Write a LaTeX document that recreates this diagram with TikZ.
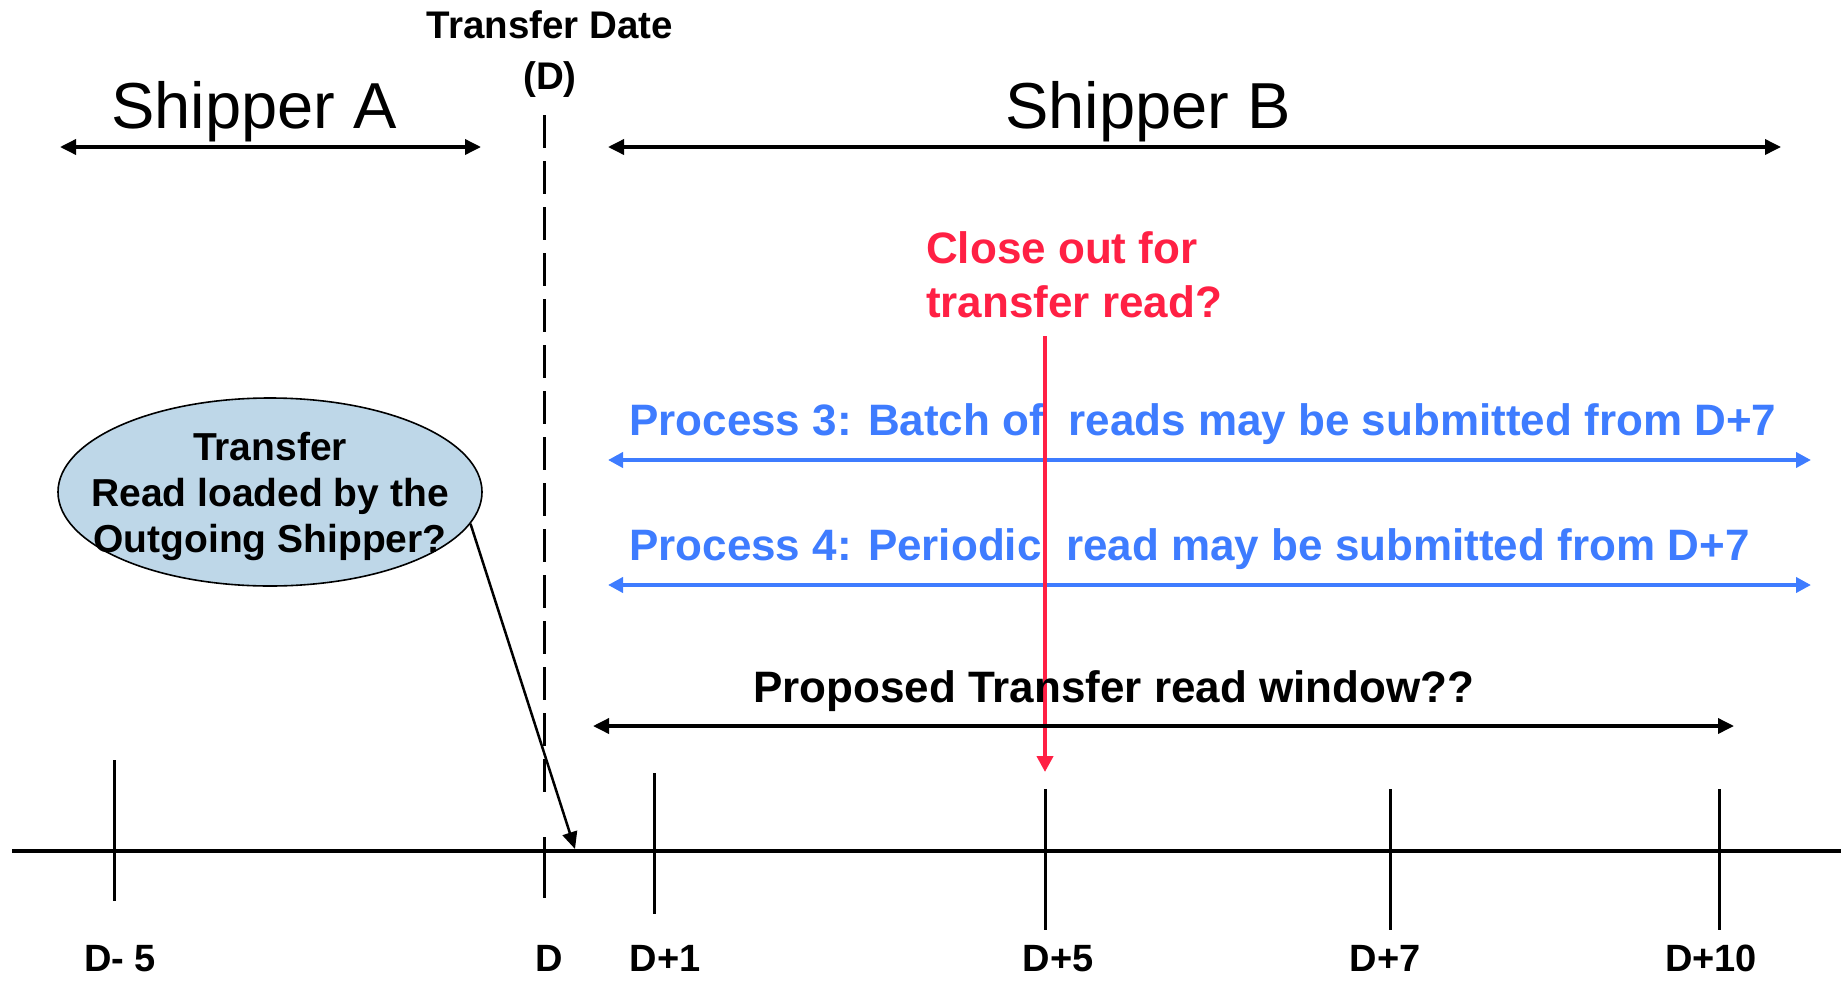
\documentclass[tikz,border=0pt]{standalone}
\usepackage{fontspec}
\setmainfont{Liberation Sans}
\usetikzlibrary{arrows.meta,shapes.geometric}
\definecolor{pblue}{RGB}{62,124,255}
\definecolor{cred}{RGB}{255,32,68}
\definecolor{ellfill}{RGB}{190,215,232}
\begin{document}
\begin{tikzpicture}[x=1pt,y=-1pt,
  blkarrow/.style={line width=3.5pt,{Triangle[length=16pt,width=15pt]}-{Triangle[length=16pt,width=15pt]}},
  bluearrow/.style={pblue,line width=4pt,{Triangle[length=15pt,width=15pt]}-{Triangle[length=15pt,width=15pt]}},
  tick/.style={line width=3pt},
  big/.style={inner sep=0pt,anchor=base,font=\fontsize{65}{78}\selectfont},
  ticklabel/.style={inner sep=0pt,anchor=base,font=\fontsize{38}{44}\selectfont\bfseries},
  datelabel/.style={inner sep=0pt,anchor=base,font=\fontsize{38.5}{44}\selectfont\bfseries},
  proclabel/.style={inner sep=0pt,anchor=base west,text=pblue,font=\fontsize{44}{50}\selectfont\bfseries},
  redlabel/.style={inner sep=0pt,anchor=base west,text=cred,font=\fontsize{44}{50}\selectfont\bfseries},
  elllabel/.style={inner sep=0pt,anchor=base,font=\fontsize{39}{46}\selectfont\bfseries},
  winlabel/.style={inner sep=0pt,anchor=base west,font=\fontsize{44}{50}\selectfont\bfseries}
]
\useasboundingbox (0,0) rectangle (1841,980);

% Titles
\node[big] (shA) at (254,128) {Shipper A};
\node[big] (shB) at (1148,128) {Shipper B};
\node[datelabel] (td1) at (550,38) {Transfer Date};
\node[datelabel] (td2) at (550,89) {(D)};

% Shipper arrows
\coordinate (aL) at (60,147);
\coordinate (aR) at (481,147);
\coordinate (bL) at (608,147);
\coordinate (bR) at (1781,147);
\draw[blkarrow] (aL) -- (aR);
\draw[blkarrow] (bL) -- (bR);

% Transfer date dashed line
\coordinate (dTop) at (544,115);
\coordinate (dBot) at (544,805);
\draw[line width=3pt,dash pattern=on 33pt off 13pt] (dTop) -- (dBot);

% Ellipse
\node[ellipse,draw,line width=1.6pt,fill=ellfill,minimum width=424pt,minimum height=188pt,inner sep=0pt] (ell) at (270,492) {};
\node[elllabel] (e1) at (270,460) {Transfer};
\node[elllabel] (e2) at (270,506) {Read loaded by the};
\node[elllabel] (e3) at (270,552) {Outgoing Shipper?};

% Blue process arrows and labels
\node[proclabel] (p3) at (629,435) {Process 3: Batch of~ reads may be submitted from D+7};
\node[proclabel] (p4) at (629,560) {Process 4: Periodic~ read may be submitted from D+7};
\coordinate (p3L) at (608,460);
\coordinate (p3R) at (1811,460);
\coordinate (p4L) at (608,585);
\coordinate (p4R) at (1811,585);
\draw[bluearrow] (p3L) -- (p3R);
\draw[bluearrow] (p4L) -- (p4R);

% Red close-out
\node[redlabel] (c1) at (926,263) {Close out for};
\node[redlabel] (c2) at (926,317) {transfer read?};
\coordinate (rTop) at (1045,336);
\coordinate (rTip) at (1045,772);
\draw[cred,line width=4pt,-{Triangle[length=16pt,width=16pt]}] (rTop) -- (rTip);

% Proposed window
\node[winlabel] (win) at (753,702) {Proposed Transfer read window??};
\coordinate (wL) at (593,726);
\coordinate (wR) at (1734,726);
\draw[blkarrow] (wL) -- (wR);

% Timeline
\coordinate (tlL) at (12,851);
\coordinate (tlR) at (1841,851);
\draw[line width=4pt] (tlL) -- (tlR);

% Ticks
\coordinate (t1a) at (114,760);  \coordinate (t1b) at (114,901);
\coordinate (t2a) at (544,837);  \coordinate (t2b) at (544,898);
\coordinate (t3a) at (654,773);  \coordinate (t3b) at (654,914);
\coordinate (t4a) at (1045,789); \coordinate (t4b) at (1045,930);
\coordinate (t5a) at (1390,789); \coordinate (t5b) at (1390,930);
\coordinate (t6a) at (1719,789); \coordinate (t6b) at (1719,930);
\draw[tick] (t1a) -- (t1b);
\draw[tick] (t2a) -- (t2b);
\draw[tick] (t3a) -- (t3b);
\draw[tick] (t4a) -- (t4b);
\draw[tick] (t5a) -- (t5b);
\draw[tick] (t6a) -- (t6b);

% Ellipse pointer
\coordinate (eTip) at (575,849);
\draw[line width=2.5pt,-{Triangle[length=17pt,width=15pt]}] (ell.-9.6) -- (eTip);

% Tick labels
\node[ticklabel] (l1) at (120,971) {D- 5};
\node[ticklabel] (l2) at (549,971) {D};
\node[ticklabel] (l3) at (665,971) {D+1};
\node[ticklabel] (l4) at (1058,971) {D+5};
\node[ticklabel] (l5) at (1385,971) {D+7};
\node[ticklabel] (l6) at (1711,971) {D+10};
\end{tikzpicture}
\end{document}
